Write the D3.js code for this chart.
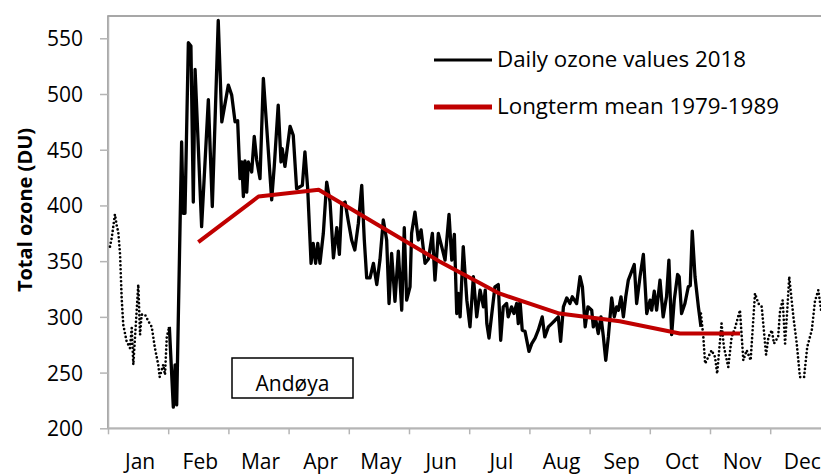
<!DOCTYPE html>
<html>
<head>
<meta charset="utf-8">
<script src="https://cdn.jsdelivr.net/npm/d3@7/dist/d3.min.js"></script>
<style>
  body { margin: 0; background: #fff; }
  text { font-family: "Open Sans", sans-serif; fill: #000; }
</style>
</head>
<body>
<div id="chart"></div>
<script>
// month labels + y ticks
var months = ["Jan", "Feb", "Mar", "Apr", "May", "Jun", "Jul", "Aug", "Sep", "Oct", "Nov", "Dec"];
var yTicks = [200, 250, 300, 350, 400, 450, 500, 550];

// january, dotted (day of year, DU)
var janDays = [1.0, 1.9, 3.5, 4.4, 5.2, 6.1, 6.9, 7.7, 9.4, 11.1, 12.0, 12.8, 15.3, 16.2, 17.0, 18.7, 20.4, 22.1, 23.7, 25.4, 26.1, 27.9, 28.8, 29.7, 31.0];
var janVals = [363, 371, 392, 382, 376, 356, 317, 293, 278, 272, 290, 257, 329, 284, 302, 302, 296, 291, 272, 257, 246, 257, 248, 282, 291];

// daily ozone values 2018, solid part (feb - oct)
var dailyDays = [31.0, 33.0, 33.9, 34.7, 37.2, 38.0, 38.9, 40.6, 41.9, 43.1, 44.0, 47.3, 50.7, 52.7, 55.7, 57.5, 60.8, 62.5, 64.2, 65.5,
  66.7, 67.6, 68.4, 69.2, 70.1, 70.9, 72.6, 73.9, 75.1, 76.8, 78.5, 82.7, 84.0, 86.0, 87.4, 88.0, 89.4, 92.0, 93.6, 95.3,
  98.2, 99.5, 100.9, 102.6, 103.7, 104.9, 106.0, 107.1, 108.8, 110.5, 112.2, 113.9, 115.6, 116.9, 118.1, 119.8, 121.4, 123.1, 124.7, 126.5,
  128.2, 129.5, 130.7, 132.4, 134.1, 135.8, 137.4, 139.1, 140.8, 142.0, 143.3, 145.0, 146.7, 148.4, 149.7, 150.9, 152.6, 153.4, 155.1, 156.8,
  158.2, 160.2, 161.9, 163.9, 165.2, 166.9, 168.6, 170.3, 172.3, 173.7, 175.0, 176.2, 177.0, 177.9, 179.5, 181.3, 182.9, 184.6, 186.3, 188.0,
  189.7, 190.6, 191.4, 192.5, 195.5, 197.2, 198.4, 199.7, 201.4, 202.2, 203.9, 205.1, 206.5, 207.3, 208.2, 209.3, 210.7, 212.7, 214.1, 215.8,
  217.4, 219.4, 220.7, 222.5, 224.2, 225.9, 227.5, 228.7, 230.1, 231.8, 233.4, 234.6, 236.8, 238.5, 239.7, 241.1, 242.5, 244.4, 245.2, 246.4,
  247.7, 249.1, 250.3, 251.5, 252.8, 254.5, 255.8, 257.0, 257.9, 259.2, 260.4, 261.6, 262.9, 264.2, 265.9, 267.1, 268.8, 270.5, 272.2, 273.9,
  274.7, 276.0, 277.2, 278.9, 280.5, 282.2, 283.4, 284.8, 286.1, 287.8, 288.6, 289.8, 291.5, 293.2, 294.2, 295.2, 296.6, 298.3, 299.6];
var dailyVals = [291, 219, 257, 221, 457, 393, 393, 546, 543, 403, 522, 381, 495, 399, 566, 475, 508, 499, 475, 476,
  424, 439, 408, 440, 412, 439, 430, 462, 441, 424, 514, 405, 435, 490, 439, 451, 435, 471, 463, 415,
  418, 448, 415, 348, 366, 348, 366, 348, 375, 421, 403, 353, 380, 356, 401, 403, 386, 369, 360, 384,
  418, 369, 335, 335, 348, 329, 351, 387, 369, 312, 357, 314, 359, 306, 380, 315, 327, 375, 394, 369,
  378, 348, 352, 375, 333, 375, 363, 351, 392, 351, 374, 303, 321, 300, 363, 315, 291, 336, 300, 324,
  309, 324, 294, 281, 327, 329, 279, 309, 312, 300, 309, 303, 312, 294, 314, 288, 287, 269, 276, 281,
  288, 300, 282, 291, 294, 297, 300, 278, 309, 317, 312, 318, 312, 336, 327, 291, 309, 306, 291, 298,
  285, 300, 282, 261, 282, 317, 300, 309, 306, 318, 300, 318, 333, 339, 347, 312, 336, 356, 303, 315,
  306, 323, 306, 333, 300, 318, 351, 284, 315, 338, 336, 303, 312, 327, 328, 377, 336, 309, 291];

// nov - dec, dotted
var lateDays = [299.6, 300.8, 301.7, 303.3, 305.0, 306.7, 307.8, 308.8, 310.0, 311.2, 313.4, 315.1, 316.8, 319.3, 321.0, 322.7, 324.7, 326.9, 328.6, 330.3,
  332.5, 333.7, 335.4, 336.5, 338.6, 339.6, 340.9, 342.1, 343.2, 344.2, 346.3, 348.0, 349.6, 351.7, 353.3, 355.6, 357.2, 358.9, 360.3];
var lateVals = [303, 282, 258, 264, 270, 264, 249, 270, 294, 273, 255, 282, 290, 306, 261, 270, 261, 321, 312, 309,
  266, 282, 288, 276, 282, 306, 315, 276, 306, 336, 300, 276, 246, 246, 273, 288, 314, 324, 306];

// longterm mean 1979-1989, one value per month (feb..nov)
var meanMonths = [1, 2, 3, 4, 5, 6, 7, 8, 9, 10];
var meanVals = [367, 408, 414, 382, 350, 321, 303, 296, 285, 285];

var W = 821, H = 475;
var monthLen = 365 / 12;

var svg = d3.select("#chart").append("svg").attr("width", W).attr("height", H);

var x = d3.scaleLinear().domain([0, 365]).range([108, 830.4]);
var y = d3.scaleLinear().domain([200, 570]).range([428.3, 16]);

// plot area border (right side runs off the picture)
svg.append("rect")
  .attr("x", x(0)).attr("y", y(570))
  .attr("width", x(365) - x(0)).attr("height", y(200) - y(570))
  .style("fill", "none").style("stroke", "#8a8a8a").style("stroke-width", 1.5);

// y axis
var yAxis = svg.append("g").attr("transform", "translate(" + x(0) + ",0)")
  .call(d3.axisLeft(y).tickValues(yTicks).tickSize(8).tickSizeOuter(0).tickPadding(17));
yAxis.selectAll("path, line").style("stroke", "#b5b5b5").style("stroke-width", 1.5);
yAxis.selectAll("text").style("font-size", "21px").attr("dy", "0.36em");

// x axis, ticks at month boundaries, labels centred in between
var bounds = d3.range(0, 13).map(function (i) { return i * monthLen; });
var xAxis = svg.append("g").attr("transform", "translate(0," + y(200) + ")")
  .call(d3.axisBottom(x).tickValues(bounds).tickFormat("").tickSize(6).tickSizeOuter(0));
xAxis.selectAll("path, line").style("stroke", "#b5b5b5").style("stroke-width", 1.5);

svg.append("g").selectAll("text").data(months).enter().append("text")
  .attr("x", function (d, i) { return x((i + 0.5) * monthLen) + 2; })
  .attr("y", 469)
  .attr("text-anchor", "middle")
  .style("font-size", "21px")
  .text(function (d) { return d; });

// y axis title
svg.append("text")
  .attr("transform", "translate(32,210) rotate(-90)")
  .attr("text-anchor", "middle")
  .style("font-size", "20px").style("font-weight", "bold")
  .text("Total ozone (DU)");

function pairs(days, vals) {
  return days.map(function (d, i) { return [d, vals[i]]; });
}
var line = d3.line()
  .x(function (d) { return x(d[0]); })
  .y(function (d) { return y(d[1]); });

// dotted parts
[pairs(janDays, janVals), pairs(lateDays, lateVals)].forEach(function (p) {
  svg.append("path").datum(p).attr("d", line)
    .style("fill", "none").style("stroke", "#000").style("stroke-width", 2.7)
    .style("stroke-linecap", "round").style("stroke-dasharray", "0 4");
});

// daily 2018
svg.append("path").datum(pairs(dailyDays, dailyVals)).attr("d", line)
  .style("fill", "none").style("stroke", "#000").style("stroke-width", 3.3)
  .style("stroke-linejoin", "round");

// longterm mean
var meanPts = meanMonths.map(function (m, i) { return [(m + 0.5) * monthLen, meanVals[i]]; });
svg.append("path").datum(meanPts).attr("d", line)
  .style("fill", "none").style("stroke", "#c00000").style("stroke-width", 4)
  .style("stroke-linejoin", "round");

// legend
var legend = [
  { label: "Daily ozone values 2018", color: "#000", width: 3, y: 60, len: 249 },
  { label: "Longterm mean 1979-1989", color: "#c00000", width: 5, y: 107, len: 282 }
];
var lg = svg.append("g").selectAll("g").data(legend).enter().append("g");
lg.append("line")
  .attr("x1", 434).attr("x2", 492)
  .attr("y1", function (d) { return d.y; }).attr("y2", function (d) { return d.y; })
  .style("stroke", function (d) { return d.color; })
  .style("stroke-width", function (d) { return d.width; });
lg.append("text")
  .attr("x", 497).attr("y", function (d) { return d.y + 7; })
  .attr("textLength", function (d) { return d.len; })
  .attr("lengthAdjust", "spacingAndGlyphs")
  .style("font-size", "22px")
  .text(function (d) { return d.label; });

// station box
svg.append("rect")
  .attr("x", 232).attr("y", 358).attr("width", 121).attr("height", 40)
  .style("fill", "#fff").style("stroke", "#000").style("stroke-width", 1.5);
svg.append("text")
  .attr("x", 292.5).attr("y", 391)
  .attr("text-anchor", "middle")
  .style("font-size", "21px")
  .text("Andøya");
</script>
</body>
</html>
